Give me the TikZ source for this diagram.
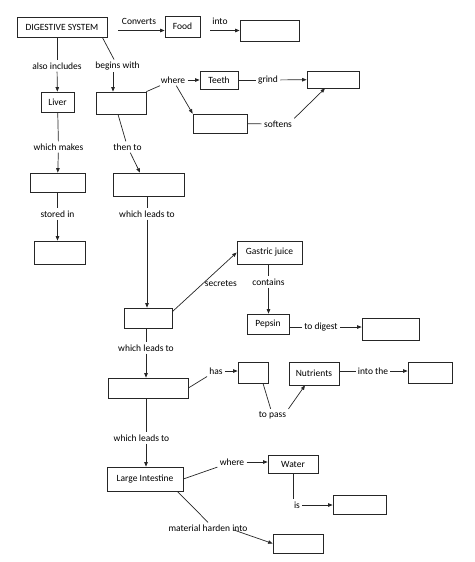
\documentclass[tikz,border=0pt]{standalone}
\usepackage{fontspec}
\setmainfont{Carlito}
\usetikzlibrary{arrows.meta}

\begin{document}
\begin{tikzpicture}[x=1pt, y=-1pt, line width=0.7pt, draw=black!85,
	font=\fontsize{9.5}{11}\selectfont,
	box/.style={draw, inner sep=0pt},
	lbl/.style={inner sep=2pt},
	arr/.style={-{Triangle[length=4.5pt, width=3.5pt]}}]

\useasboundingbox (0,0) rectangle (474,562);

% Boxes with a text
\node[box, minimum width=90, minimum height=20] (ds) at (62,27) {DIGESTIVE SYSTEM};
\node[box, minimum width=35, minimum height=21] (food) at (182.5,26.5) {Food};
\node[box, minimum width=33, minimum height=20] (liver) at (57.5,102) {Liver};
\node[box, minimum width=38, minimum height=18] (teeth) at (219,80) {Teeth};
\node[box, minimum width=65, minimum height=23] (gastric) at (269.5,252.5) {Gastric juice};
\node[box, minimum width=42, minimum height=20] (pepsin) at (268,324) {Pepsin};
\node[box, minimum width=50, minimum height=23] (nutrients) at (314,373.5) {Nutrients};
\node[box, minimum width=76, minimum height=24] (li) at (145,479) {Large Intestine};
\node[box, minimum width=50, minimum height=18] (water) at (293,464) {Water};

% Empty boxes
\foreach \name/\x/\y/\w/\h in {e1/269.5/30.5/59/21, e2/121/103/50/22,
		e3/333/79.5/52/17, e4/220/123.5/54/19, e5/57.5/182.5/55/19,
		e6/59.5/252.5/51/23, e7/148.5/184.5/71/23, e8/148/318/48/20,
		e9/390.5/329/57/22, e10/148/388/80/20, e11/253/372.5/30/21,
		e12/430/372.5/44/21, e13/359.5/504.5/53/19, e14/298/543.5/50/19}{
	\node[box, minimum width=\w, minimum height=\h] (\name) at (\x,\y) {};
}

% Link labels
\node[lbl] (conv) at (139,21) {Converts};
\node[lbl] (into) at (220,21) {into};
\node[lbl] (inc) at (57,66) {also includes};
\node[lbl] (begins) at (117.5,66) {begins with};
\node[lbl] (where1) at (173,80) {where};
\node[lbl] (grind) at (268,80) {grind};
\node[lbl] (softens) at (278,124) {softens};
\node[lbl] (makes) at (58.5,147) {which makes};
\node[lbl] (then) at (127.5,147) {then to};
\node[lbl] (stored) at (57.5,214) {stored in};
\node[lbl] (lead1) at (147,214) {which leads to};
\node[lbl] (contains) at (268.5,282) {contains};
\node[lbl] (todigest) at (321,327) {to digest};
\node[lbl] (lead2) at (146,348) {which leads to};
\node[lbl] (has) at (216,371) {has};
\node[lbl] (topass) at (272.5,415) {to pass};
\node[lbl] (intothe) at (373,371) {into the};
\node[lbl] (lead3) at (141.5,438) {which leads to};
\node[lbl] (where2) at (232,462) {where};
\node[lbl] (is) at (297,505) {is};
\node[lbl] (mat) at (208,528) {material harden into};

% Top row
\draw[arr] ([xshift=11pt]ds.east |- e1.west) -- (food.west |- e1.west);
\draw[arr] ([xshift=10pt]food.east |- e1.west) -- (e1.west);

% Liver branch
\draw (ds.south -| inc) -- (inc);
\draw[arr] (inc) -- (liver);
\draw (liver) -- (makes);
\draw[arr] (makes) -- (e5);
\draw (e5) -- (stored);
\draw[arr] (stored) -- (stored |- e6.north);

% Mouth
\draw ([xshift=-5pt]ds.south east) -- (begins);
\draw[arr] ([xshift=-4.5pt]begins.south) -- ([xshift=-8pt]e2.north);
\draw (e2.north east) -- (where1);
\draw[arr] (where1) -- (teeth);
\draw[arr] (where1) -- (e4.north west);
\draw (teeth) -- (grind);
\draw[arr] (grind) -- (e3);
\draw (e4) -- (softens);
\draw[arr] (softens.north east) -- ([xshift=-8pt]e3.south);

% Down the spine
\draw ([xshift=-3pt]e2.south) -- (then);
\draw[arr] (then) -- ([xshift=-8.5pt]e7.north);
\draw (e7.south -| lead1) -- (lead1);
\draw[arr] (lead1) -- (lead1 |- e8.north);
\draw[arr] ([yshift=-4pt]e8.north east) -- node[lbl, pos=0.47, anchor=west] (secr) {secretes} (gastric.west);
\draw (gastric.south -| contains) -- (contains);
\draw[arr] (contains) -- (contains |- pepsin.north);
\draw (pepsin.east |- todigest) -- (todigest);
\draw[arr] (todigest) -- (todigest -| e9.west);
\draw (e8.south -| lead2) -- (lead2);
\draw[arr] (lead2) -- (lead2 |- e10.north);
\draw (e10.east) -- (has);
\draw[arr] (has) -- (has -| e11.west);
\draw ([xshift=10pt]e11.south) -- (topass);
\draw[arr] (topass.north east) -- ([xshift=-9pt]nutrients.south);
\draw (nutrients.east |- intothe) -- (intothe);
\draw[arr] (intothe) -- (intothe -| e12.west);
\draw (e10.south -| lead2) -- (lead2 |- lead3.north);
\draw[arr] (lead2 |- lead3.south) -- (lead2 |- li.north);

% Large intestine
\draw (li.east) -- (where2);
\draw[arr] (where2) -- (where2 -| water.west);
\draw (water.south) -- (water.south |- is.north);
\draw[arr] (is) -- (is -| e13.west);
\draw ([xshift=-6pt]li.south east) -- (mat.north);
\draw[arr] ([xshift=-16pt, yshift=-2pt]mat.east) -- (e14.west);
\end{tikzpicture}
\end{document}
